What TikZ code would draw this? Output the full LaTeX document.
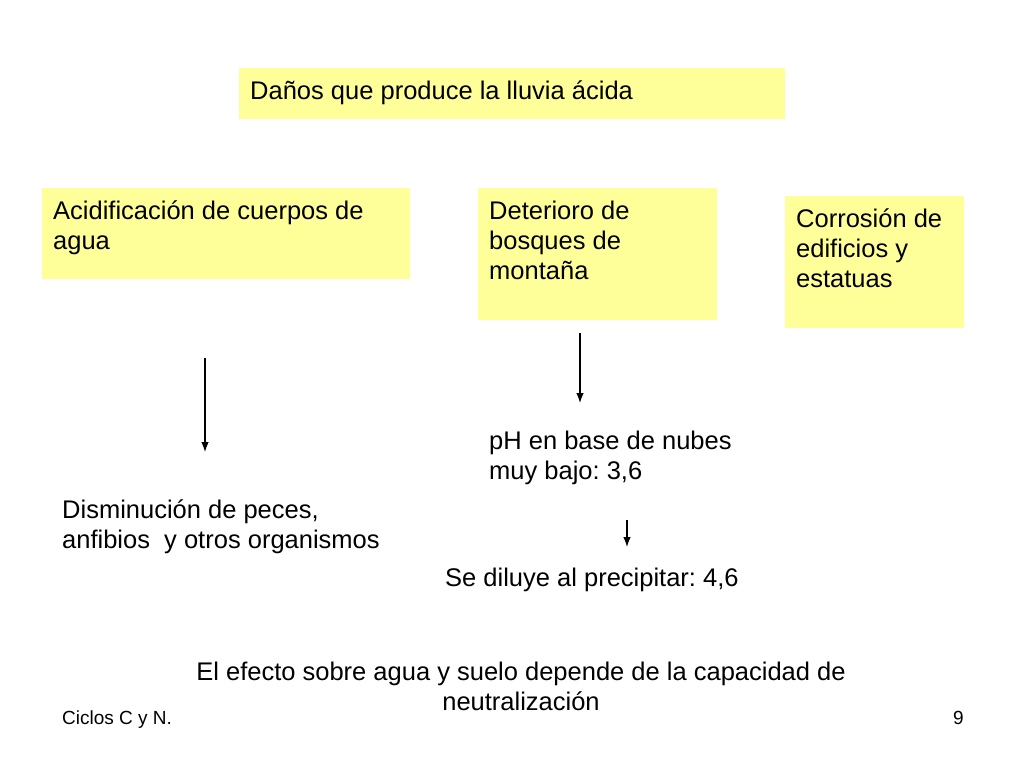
\documentclass[tikz,border=0pt]{standalone}
\usepackage{fontspec}
\setmainfont{Liberation Sans}
\usepackage{tikz}
\usetikzlibrary{arrows.meta}
\definecolor{amarillo}{HTML}{FFFF99}
\newcommand{\caja}[3]{\parbox[t][#2pt][t]{#1pt}{\raggedright #3}}
\frenchspacing

\begin{document}
\begin{tikzpicture}[x=1pt,y=-1pt,font=\fontsize{25.5}{30}\selectfont,
        dano/.style={fill=amarillo,anchor=north west,inner xsep=11pt,inner ysep=13pt},
        texto/.style={anchor=base west,inner sep=0pt},
        flecha/.style={line width=1.2pt,-{Latex[length=10pt,width=7.5pt]}}]
                \useasboundingbox (0,0) rectangle (1024,768);
                \node[dano] (titulo) at (239,68) {\caja{524}{25}{Daños que produce la lluvia ácida}};
                \node[dano] (acid) at (42,188) {\caja{346}{65}{Acidificación de cuerpos de\\agua}};
                \node[dano] (bosque) at (478,188) {\caja{217}{106}{Deterioro de\\bosques de\\montaña}};
                \node[dano] (corros) at (785,196) {\caja{157}{106}{Corrosión de\\edificios y\\estatuas}};

                \node[texto] (ph) at (489,449) {\parbox[t]{300pt}{pH en base de nubes\\muy bajo: 3,6}};
                \node[texto] (peces) at (62,518) {\parbox[t]{400pt}{Disminución de peces,\\anfibios~ y otros organismos}};
                \node[texto] (diluye) at (445,586) {Se diluye al precipitar: 4,6};
                \node[anchor=base,inner sep=0pt] (efecto) at (521,680) {\parbox[t]{720pt}{\centering El efecto sobre agua y suelo depende de la capacidad de\\neutralización}};
                \node[texto,font=\fontsize{19}{22}\selectfont] (ciclos) at (62,724) {Ciclos C y N.};
                \node[texto,font=\fontsize{19}{22}\selectfont] (pag) at (953,724) {9};

                \coordinate (f1a) at (205,358); \coordinate (f1b) at (205,452);
                \coordinate (f2a) at (580,333); \coordinate (f2b) at (580,403);
                \coordinate (f3a) at (627,520); \coordinate (f3b) at (627,547);
                \draw[flecha] (f1a) -- (f1b);
                \draw[flecha] (f2a) -- (f2b);
                \draw[flecha] (f3a) -- (f3b);
            \end{tikzpicture}
\end{document}
